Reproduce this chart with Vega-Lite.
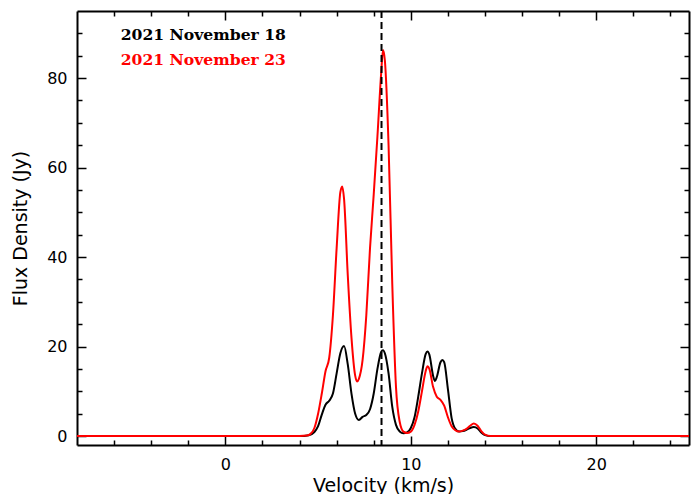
{
  "$schema": "https://vega.github.io/schema/vega-lite/v6.json",
  "width": 612,
  "height": 434,
  "autosize": {"type": "none"},
  "padding": {"left": 77, "top": 11, "right": 8, "bottom": 49},
  "background": "white",
  "config": {
    "view": {"stroke": null},
    "axis": {
      "domainColor": "black",
      "domainWidth": 2,
      "tickColor": "black",
      "tickWidth": 1.5,
      "labelFont": "DejaVu Sans",
      "labelFontSize": 16,
      "labelColor": "black",
      "titleFont": "DejaVu Sans",
      "titleFontSize": 19,
      "titleFontWeight": "normal",
      "titleColor": "black",
      "grid": false,
      "labelOverlap": false,
      "labelFlush": false
    }
  },
  "datasets": {
    "spectra": [
      {"v": -8, "flux": 0, "date": "2021 November 18"},
      {"v": 4.0, "flux": 0, "date": "2021 November 18"},
      {"v": 4.5, "flux": 0.2, "date": "2021 November 18"},
      {"v": 4.8, "flux": 0.9, "date": "2021 November 18"},
      {"v": 5.0, "flux": 2.2, "date": "2021 November 18"},
      {"v": 5.2, "flux": 4.8, "date": "2021 November 18"},
      {"v": 5.4, "flux": 7.0, "date": "2021 November 18"},
      {"v": 5.6, "flux": 7.9, "date": "2021 November 18"},
      {"v": 5.8, "flux": 9.5, "date": "2021 November 18"},
      {"v": 6.0, "flux": 14.0, "date": "2021 November 18"},
      {"v": 6.2, "flux": 18.5, "date": "2021 November 18"},
      {"v": 6.4, "flux": 20.1, "date": "2021 November 18"},
      {"v": 6.6, "flux": 16.0, "date": "2021 November 18"},
      {"v": 6.8, "flux": 9.5, "date": "2021 November 18"},
      {"v": 7.0, "flux": 5.0, "date": "2021 November 18"},
      {"v": 7.2, "flux": 3.6, "date": "2021 November 18"},
      {"v": 7.4, "flux": 4.3, "date": "2021 November 18"},
      {"v": 7.6, "flux": 4.7, "date": "2021 November 18"},
      {"v": 7.8, "flux": 6.0, "date": "2021 November 18"},
      {"v": 8.0, "flux": 9.5, "date": "2021 November 18"},
      {"v": 8.2, "flux": 15.0, "date": "2021 November 18"},
      {"v": 8.4, "flux": 18.8, "date": "2021 November 18"},
      {"v": 8.5, "flux": 19.2, "date": "2021 November 18"},
      {"v": 8.6, "flux": 18.5, "date": "2021 November 18"},
      {"v": 8.8, "flux": 14.0, "date": "2021 November 18"},
      {"v": 9.0, "flux": 6.5, "date": "2021 November 18"},
      {"v": 9.2, "flux": 2.5, "date": "2021 November 18"},
      {"v": 9.4, "flux": 1.0, "date": "2021 November 18"},
      {"v": 9.6, "flux": 0.6, "date": "2021 November 18"},
      {"v": 9.8, "flux": 0.8, "date": "2021 November 18"},
      {"v": 10.0, "flux": 1.8, "date": "2021 November 18"},
      {"v": 10.2, "flux": 4.2, "date": "2021 November 18"},
      {"v": 10.4, "flux": 8.8, "date": "2021 November 18"},
      {"v": 10.6, "flux": 14.0, "date": "2021 November 18"},
      {"v": 10.8, "flux": 18.3, "date": "2021 November 18"},
      {"v": 10.9, "flux": 18.9, "date": "2021 November 18"},
      {"v": 11.0, "flux": 18.2, "date": "2021 November 18"},
      {"v": 11.2, "flux": 13.5, "date": "2021 November 18"},
      {"v": 11.3, "flux": 12.3, "date": "2021 November 18"},
      {"v": 11.4, "flux": 13.2, "date": "2021 November 18"},
      {"v": 11.6, "flux": 16.5, "date": "2021 November 18"},
      {"v": 11.7, "flux": 17.0, "date": "2021 November 18"},
      {"v": 11.8, "flux": 16.5, "date": "2021 November 18"},
      {"v": 12.0, "flux": 10.5, "date": "2021 November 18"},
      {"v": 12.2, "flux": 4.0, "date": "2021 November 18"},
      {"v": 12.4, "flux": 1.6, "date": "2021 November 18"},
      {"v": 12.6, "flux": 1.0, "date": "2021 November 18"},
      {"v": 12.8, "flux": 1.1, "date": "2021 November 18"},
      {"v": 13.0, "flux": 1.4, "date": "2021 November 18"},
      {"v": 13.2, "flux": 1.8, "date": "2021 November 18"},
      {"v": 13.4, "flux": 2.0, "date": "2021 November 18"},
      {"v": 13.6, "flux": 1.7, "date": "2021 November 18"},
      {"v": 13.8, "flux": 0.8, "date": "2021 November 18"},
      {"v": 14.0, "flux": 0.2, "date": "2021 November 18"},
      {"v": 14.3, "flux": 0, "date": "2021 November 18"},
      {"v": 25, "flux": 0, "date": "2021 November 18"},
      {"v": -8, "flux": 0, "date": "2021 November 23"},
      {"v": 4.0, "flux": 0, "date": "2021 November 23"},
      {"v": 4.4, "flux": 0.1, "date": "2021 November 23"},
      {"v": 4.6, "flux": 0.5, "date": "2021 November 23"},
      {"v": 4.8, "flux": 1.8, "date": "2021 November 23"},
      {"v": 5.0, "flux": 5.0, "date": "2021 November 23"},
      {"v": 5.2, "flux": 9.5, "date": "2021 November 23"},
      {"v": 5.4, "flux": 14.5, "date": "2021 November 23"},
      {"v": 5.6, "flux": 17.5, "date": "2021 November 23"},
      {"v": 5.8, "flux": 27.0, "date": "2021 November 23"},
      {"v": 6.0, "flux": 42.0, "date": "2021 November 23"},
      {"v": 6.2, "flux": 54.5, "date": "2021 November 23"},
      {"v": 6.3, "flux": 55.8, "date": "2021 November 23"},
      {"v": 6.4, "flux": 53.0, "date": "2021 November 23"},
      {"v": 6.6, "flux": 36.0, "date": "2021 November 23"},
      {"v": 6.8, "flux": 22.0, "date": "2021 November 23"},
      {"v": 7.0, "flux": 13.5, "date": "2021 November 23"},
      {"v": 7.1, "flux": 12.2, "date": "2021 November 23"},
      {"v": 7.2, "flux": 12.8, "date": "2021 November 23"},
      {"v": 7.4, "flux": 17.0, "date": "2021 November 23"},
      {"v": 7.6, "flux": 27.0, "date": "2021 November 23"},
      {"v": 7.8, "flux": 42.0, "date": "2021 November 23"},
      {"v": 8.0, "flux": 54.0, "date": "2021 November 23"},
      {"v": 8.2, "flux": 67.0, "date": "2021 November 23"},
      {"v": 8.4, "flux": 81.0, "date": "2021 November 23"},
      {"v": 8.5, "flux": 86.3, "date": "2021 November 23"},
      {"v": 8.6, "flux": 84.0, "date": "2021 November 23"},
      {"v": 8.8, "flux": 65.0, "date": "2021 November 23"},
      {"v": 9.0, "flux": 34.0, "date": "2021 November 23"},
      {"v": 9.2, "flux": 11.0, "date": "2021 November 23"},
      {"v": 9.4, "flux": 3.2, "date": "2021 November 23"},
      {"v": 9.6, "flux": 1.0, "date": "2021 November 23"},
      {"v": 9.8, "flux": 0.7, "date": "2021 November 23"},
      {"v": 10.0, "flux": 1.0, "date": "2021 November 23"},
      {"v": 10.2, "flux": 2.5, "date": "2021 November 23"},
      {"v": 10.4, "flux": 5.5, "date": "2021 November 23"},
      {"v": 10.6, "flux": 10.0, "date": "2021 November 23"},
      {"v": 10.8, "flux": 14.5, "date": "2021 November 23"},
      {"v": 10.9, "flux": 15.6, "date": "2021 November 23"},
      {"v": 11.0, "flux": 15.0, "date": "2021 November 23"},
      {"v": 11.2, "flux": 11.0, "date": "2021 November 23"},
      {"v": 11.4, "flux": 8.8, "date": "2021 November 23"},
      {"v": 11.6, "flux": 8.1, "date": "2021 November 23"},
      {"v": 11.8, "flux": 6.8, "date": "2021 November 23"},
      {"v": 12.0, "flux": 4.2, "date": "2021 November 23"},
      {"v": 12.2, "flux": 2.2, "date": "2021 November 23"},
      {"v": 12.4, "flux": 1.3, "date": "2021 November 23"},
      {"v": 12.6, "flux": 1.0, "date": "2021 November 23"},
      {"v": 12.8, "flux": 1.2, "date": "2021 November 23"},
      {"v": 13.0, "flux": 1.6, "date": "2021 November 23"},
      {"v": 13.2, "flux": 2.3, "date": "2021 November 23"},
      {"v": 13.4, "flux": 2.8, "date": "2021 November 23"},
      {"v": 13.6, "flux": 2.3, "date": "2021 November 23"},
      {"v": 13.8, "flux": 1.1, "date": "2021 November 23"},
      {"v": 14.0, "flux": 0.3, "date": "2021 November 23"},
      {"v": 14.3, "flux": 0, "date": "2021 November 23"},
      {"v": 25, "flux": 0, "date": "2021 November 23"}
    ],
    "labels": [
      {"v": -5.64, "flux": 88.6, "date": "2021 November 18"},
      {"v": -5.64, "flux": 83.0, "date": "2021 November 23"}
    ],
    "marker": [
      {"v": 8.42}
    ]
  },
  "layer": [
    {
      "data": {"name": "spectra"},
      "mark": {"type": "line", "strokeWidth": 2, "interpolate": "monotone"},
      "encoding": {
        "x": {
          "field": "v", "type": "quantitative",
          "scale": {"domain": [-8, 25], "nice": false, "zero": false},
          "axis": {
            "orient": "bottom",
            "title": "Velocity (km/s)",
            "values": [-6, -4, -2, 0, 2, 4, 6, 8, 10, 12, 14, 16, 18, 20, 22, 24],
            "labelExpr": "datum.value % 10 === 0 ? datum.label : ''",
            "tickSize": {"expr": "datum.value % 10 === 0 ? -9 : -5"},
            "labelPadding": 20,
            "titlePadding": 0
          }
        },
        "y": {
          "field": "flux", "type": "quantitative",
          "scale": {"domain": [-2, 95], "nice": false, "zero": false},
          "axis": {
            "orient": "left",
            "title": "Flux Density (Jy)",
            "values": [0, 5, 10, 15, 20, 25, 30, 35, 40, 45, 50, 55, 60, 65, 70, 75, 80, 85, 90],
            "labelExpr": "datum.value % 20 === 0 ? datum.label : ''",
            "tickSize": {"expr": "datum.value % 20 === 0 ? -9 : -5"},
            "labelPadding": 19,
            "titlePadding": 16
          }
        },
        "color": {
          "field": "date", "type": "nominal",
          "scale": {"domain": ["2021 November 18", "2021 November 23"], "range": ["#000000", "#ff0000"]},
          "legend": null
        },
        "order": {"field": "v", "type": "quantitative"}
      }
    },
    {
      "data": {"name": "labels"},
      "mark": {"type": "text", "align": "left", "baseline": "alphabetic", "font": "DejaVu Serif", "fontWeight": "bold", "fontSize": 15.6},
      "encoding": {
        "x": {
          "field": "v", "type": "quantitative",
          "axis": {
            "orient": "top",
            "title": null,
            "labels": false,
            "values": [-6, -4, -2, 0, 2, 4, 6, 8, 10, 12, 14, 16, 18, 20, 22, 24],
            "tickSize": {"expr": "datum.value % 10 === 0 ? -9 : -5"}
          }
        },
        "y": {
          "field": "flux", "type": "quantitative",
          "axis": {
            "orient": "right",
            "title": null,
            "labels": false,
            "values": [0, 5, 10, 15, 20, 25, 30, 35, 40, 45, 50, 55, 60, 65, 70, 75, 80, 85, 90],
            "tickSize": {"expr": "datum.value % 20 === 0 ? -9 : -5"}
          }
        },
        "text": {"field": "date", "type": "nominal"},
        "color": {"field": "date", "type": "nominal", "legend": null}
      }
    },
    {
      "data": {"name": "marker"},
      "mark": {"type": "rule", "color": "black", "strokeWidth": 2, "strokeDash": [7, 4]},
      "encoding": {
        "x": {"field": "v", "type": "quantitative", "axis": null}
      }
    }
  ],
  "resolve": {"axis": {"x": "independent", "y": "independent"}}
}
